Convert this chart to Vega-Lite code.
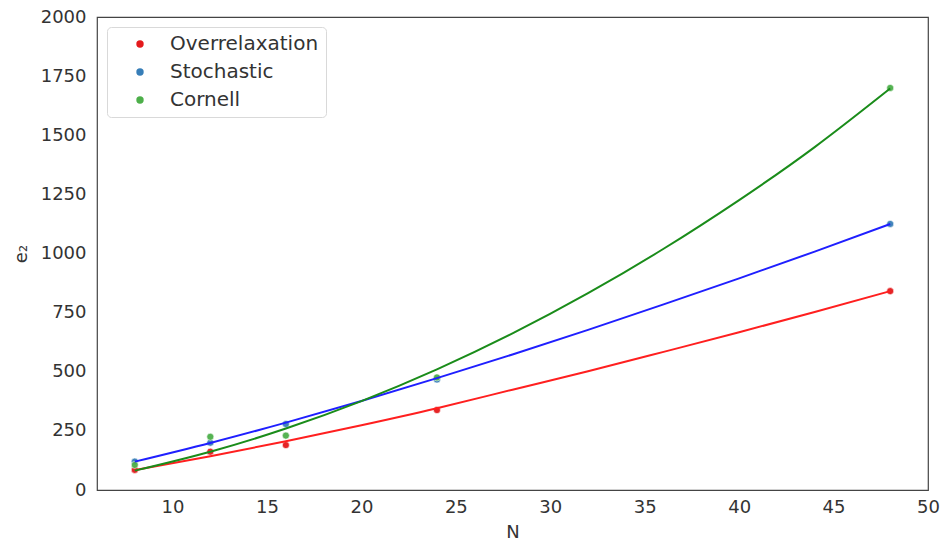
{
  "$schema": "https://vega.github.io/schema/vega-lite/v6.json",
  "width": 831,
  "height": 473,
  "autosize": {"type": "none"},
  "padding": {"left": 97, "top": 17, "right": 13, "bottom": 52},
  "background": "white",
  "config": {
    "view": {"stroke": "#444444", "strokeWidth": 1.2},
    "font": "DejaVu Sans",
    "axis": {
      "grid": false, "domain": false, "ticks": false, "labelFlush": false,
      "labelFont": "DejaVu Sans", "labelFontSize": 18, "labelColor": "#333333",
      "titleFont": "DejaVu Sans", "titleFontSize": 18, "titleColor": "#333333", "titleFontWeight": "normal"
    },
    "legend": {
      "labelFont": "DejaVu Sans", "labelFontSize": 20, "labelColor": "#333333"
    }
  },
  "data": {
    "values": [
      {"N": 8, "e2": 85, "method": "Overrelaxation", "kind": "obs"},
      {"N": 12, "e2": 162, "method": "Overrelaxation", "kind": "obs"},
      {"N": 16, "e2": 190, "method": "Overrelaxation", "kind": "obs"},
      {"N": 24, "e2": 338, "method": "Overrelaxation", "kind": "obs"},
      {"N": 48, "e2": 841, "method": "Overrelaxation", "kind": "obs"},
      {"N": 8, "e2": 120, "method": "Stochastic", "kind": "obs"},
      {"N": 12, "e2": 200, "method": "Stochastic", "kind": "obs"},
      {"N": 16, "e2": 279, "method": "Stochastic", "kind": "obs"},
      {"N": 24, "e2": 467, "method": "Stochastic", "kind": "obs"},
      {"N": 48, "e2": 1125, "method": "Stochastic", "kind": "obs"},
      {"N": 8, "e2": 106, "method": "Cornell", "kind": "obs"},
      {"N": 12, "e2": 225, "method": "Cornell", "kind": "obs"},
      {"N": 16, "e2": 230, "method": "Cornell", "kind": "obs"},
      {"N": 24, "e2": 476, "method": "Cornell", "kind": "obs"},
      {"N": 48, "e2": 1700, "method": "Cornell", "kind": "obs"},

      {"N": 8, "e2": 84, "method": "Overrelaxation", "kind": "fit"},
      {"N": 12, "e2": 143, "method": "Overrelaxation", "kind": "fit"},
      {"N": 16, "e2": 206, "method": "Overrelaxation", "kind": "fit"},
      {"N": 20, "e2": 274, "method": "Overrelaxation", "kind": "fit"},
      {"N": 24, "e2": 346, "method": "Overrelaxation", "kind": "fit"},
      {"N": 28, "e2": 424, "method": "Overrelaxation", "kind": "fit"},
      {"N": 32, "e2": 502, "method": "Overrelaxation", "kind": "fit"},
      {"N": 36, "e2": 584, "method": "Overrelaxation", "kind": "fit"},
      {"N": 40, "e2": 667, "method": "Overrelaxation", "kind": "fit"},
      {"N": 44, "e2": 753, "method": "Overrelaxation", "kind": "fit"},
      {"N": 48, "e2": 841, "method": "Overrelaxation", "kind": "fit"},

      {"N": 8, "e2": 120, "method": "Stochastic", "kind": "fit"},
      {"N": 12, "e2": 199, "method": "Stochastic", "kind": "fit"},
      {"N": 16, "e2": 285, "method": "Stochastic", "kind": "fit"},
      {"N": 20, "e2": 376, "method": "Stochastic", "kind": "fit"},
      {"N": 24, "e2": 473, "method": "Stochastic", "kind": "fit"},
      {"N": 28, "e2": 573, "method": "Stochastic", "kind": "fit"},
      {"N": 32, "e2": 677, "method": "Stochastic", "kind": "fit"},
      {"N": 36, "e2": 785, "method": "Stochastic", "kind": "fit"},
      {"N": 40, "e2": 895, "method": "Stochastic", "kind": "fit"},
      {"N": 44, "e2": 1008, "method": "Stochastic", "kind": "fit"},
      {"N": 48, "e2": 1125, "method": "Stochastic", "kind": "fit"},

      {"N": 8, "e2": 82, "method": "Cornell", "kind": "fit"},
      {"N": 12, "e2": 162, "method": "Cornell", "kind": "fit"},
      {"N": 16, "e2": 260, "method": "Cornell", "kind": "fit"},
      {"N": 20, "e2": 376, "method": "Cornell", "kind": "fit"},
      {"N": 24, "e2": 510, "method": "Cornell", "kind": "fit"},
      {"N": 28, "e2": 662, "method": "Cornell", "kind": "fit"},
      {"N": 32, "e2": 832, "method": "Cornell", "kind": "fit"},
      {"N": 36, "e2": 1020, "method": "Cornell", "kind": "fit"},
      {"N": 40, "e2": 1226, "method": "Cornell", "kind": "fit"},
      {"N": 44, "e2": 1450, "method": "Cornell", "kind": "fit"},
      {"N": 48, "e2": 1698, "method": "Cornell", "kind": "fit"}
    ]
  },
  "encoding": {
    "x": {
      "field": "N", "type": "quantitative",
      "scale": {"domain": [6, 50], "nice": false, "zero": false},
      "axis": {"values": [10, 15, 20, 25, 30, 35, 40, 45, 50], "labelPadding": 8, "title": "N", "titlePadding": 7}
    },
    "y": {
      "field": "e2", "type": "quantitative",
      "scale": {"domain": [0, 2000], "nice": false},
      "axis": {"values": [0, 250, 500, 750, 1000, 1250, 1500, 1750, 2000], "format": "d", "labelPadding": 11, "title": "e₂", "titlePadding": 10}
    }
  },
  "layer": [
    {
      "transform": [{"filter": "datum.kind === 'obs'"}],
      "mark": {"type": "point", "filled": true, "shape": "circle", "size": 50, "opacity": 0.95, "stroke": "white", "strokeWidth": 0.6},
      "encoding": {
        "color": {
          "field": "method", "type": "nominal",
          "scale": {"domain": ["Overrelaxation", "Stochastic", "Cornell"], "range": ["#e41a1c", "#377eb8", "#4daf4a"]},
          "legend": {
            "title": null, "orient": "top-left", "offset": 10,
            "symbolType": "circle", "symbolSize": 55, "symbolStrokeWidth": 0, "symbolOpacity": 1,
            "symbolOffset": 16, "labelOffset": 20, "rowPadding": 8, "padding": 7,
            "fillColor": "white", "strokeColor": "#d9d9d9", "cornerRadius": 4
          }
        }
      }
    },
    {
      "transform": [{"filter": "datum.kind === 'fit'"}],
      "mark": {"type": "line", "strokeWidth": 2, "interpolate": "natural"},
      "encoding": {
        "color": {
          "field": "method", "type": "nominal",
          "scale": {"domain": ["Overrelaxation", "Stochastic", "Cornell"], "range": ["#ff1f1f", "#1f1fff", "#1a8c1a"]},
          "legend": null
        }
      }
    }
  ],
  "resolve": {"scale": {"color": "independent"}}
}
